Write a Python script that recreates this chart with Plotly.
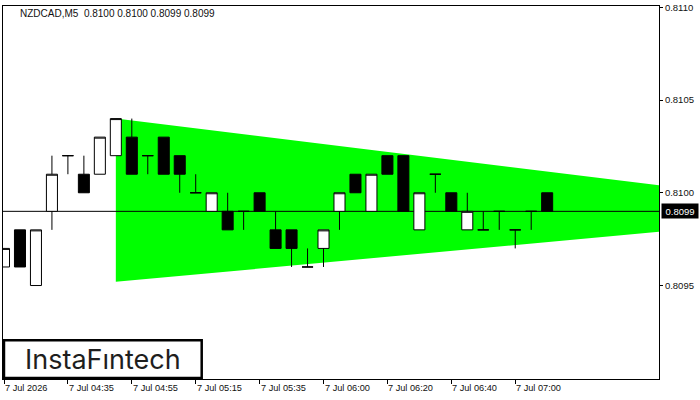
import plotly.graph_objects as go

# ---- data ----
candle_index = list(range(35))
opens = [0.8096, 0.8098, 0.8095, 0.8099, 0.8102, 0.8101, 0.8101, 0.8102, 0.8103, 0.8102,
         0.8103, 0.8102, 0.8100, 0.8099, 0.8099, 0.8099, 0.8100, 0.8098, 0.8098, 0.8096,
         0.8097, 0.8099, 0.8101, 0.8099, 0.8102, 0.8102, 0.8098, 0.8101, 0.8100, 0.8098,
         0.8098, 0.8099, 0.8098, 0.8099, 0.8100]
highs = [0.8097, 0.8098, 0.8098, 0.8102, 0.8102, 0.8102, 0.8103, 0.8104, 0.8104, 0.8102,
         0.8103, 0.8102, 0.8101, 0.8100, 0.8100, 0.8099, 0.8100, 0.8099, 0.8098, 0.8097,
         0.8098, 0.8100, 0.8101, 0.8101, 0.8102, 0.8102, 0.8100, 0.8101, 0.8100, 0.8100,
         0.8099, 0.8099, 0.8098, 0.8099, 0.8100]
lows = [0.8096, 0.8096, 0.8095, 0.8098, 0.8101, 0.8100, 0.8101, 0.8102, 0.8101, 0.8101,
        0.8101, 0.8100, 0.8100, 0.8099, 0.8098, 0.8098, 0.8099, 0.8097, 0.8096, 0.8096,
        0.8096, 0.8098, 0.8100, 0.8099, 0.8101, 0.8099, 0.8098, 0.8100, 0.8099, 0.8098,
        0.8098, 0.8098, 0.8097, 0.8098, 0.8099]
closes = [0.8097, 0.8096, 0.8098, 0.8101, 0.8102, 0.8100, 0.8103, 0.8104, 0.8101, 0.8102,
          0.8101, 0.8101, 0.8100, 0.8100, 0.8098, 0.8099, 0.8099, 0.8097, 0.8097, 0.8096,
          0.8098, 0.8100, 0.8100, 0.8101, 0.8101, 0.8099, 0.8100, 0.8101, 0.8099, 0.8099,
          0.8098, 0.8099, 0.8098, 0.8099, 0.8099]

tick_index = [0, 4, 8, 12, 16, 20, 24, 28, 32]
tick_labels = ["7 Jul 2026", "7 Jul 04:35", "7 Jul 04:55", "7 Jul 05:15", "7 Jul 05:35",
               "7 Jul 06:00", "7 Jul 06:20", "7 Jul 06:40", "7 Jul 07:00"]
price_ticks = [0.8095, 0.8100, 0.8105, 0.8110]

pattern_x = [7, 41]
pattern_upper = [0.81040, 0.81004]
pattern_lower = [0.80952, 0.80979]

current_price = 0.8099
title_text = "NZDCAD,M5  0.8100 0.8100 0.8099 0.8099"

x_range = [-0.0625, 41.0]
y_range = [0.808996, 0.811007]

fig = go.Figure()
fig.add_trace(go.Candlestick(
    x=candle_index, open=opens, high=highs, low=lows, close=closes,
    increasing=dict(line=dict(color="black", width=1), fillcolor="white"),
    decreasing=dict(line=dict(color="black", width=1), fillcolor="black"),
    whiskerwidth=0, hoverinfo="skip", showlegend=False,
))

# triangle pattern (below traces)
path = (f"M {pattern_x[0]},{pattern_upper[0]} L {pattern_x[1]},{pattern_upper[1]} "
        f"L {pattern_x[1]},{pattern_lower[1]} L {pattern_x[0]},{pattern_lower[0]} Z")
shapes = [
    dict(type="path", path=path, xref="x", yref="y", fillcolor="#00FF00",
         line=dict(width=0), layer="below"),
    dict(type="line", xref="x", x0=x_range[0], x1=x_range[1], yref="y",
         y0=current_price, y1=current_price,
         line=dict(color="black", width=1), layer="below"),
    dict(type="rect", xref="paper", yref="paper", x0=0.0015, x1=0.3029, y0=0.0027, y1=0.1037,
         line=dict(color="black", width=2.5), fillcolor="white", layer="above"),
]

annotations = [
    dict(text=title_text, xref="paper", yref="paper", x=0.0228, y=0.980,
         xanchor="left", yanchor="middle", showarrow=False,
         font=dict(family="Liberation Sans", size=10, color="#111111")),
    dict(text=f"{current_price:.4f}", xref="paper", yref="y", x=1, y=current_price,
         xanchor="left", yanchor="middle", xshift=2, showarrow=False,
         bgcolor="black", width=34, height=12, borderpad=1,
         font=dict(family="Liberation Sans", size=9.5, color="white")),
    dict(text="InstaF\u0131ntech", xref="paper", yref="paper", x=0.1522, y=0.053,
         xanchor="center", yanchor="middle", showarrow=False,
         font=dict(family="Inter", size=27, color="#1e1e1e")),
]
for xi, lab in zip(tick_index, tick_labels):
    annotations.append(dict(text=lab, xref="x", yref="paper", x=xi, y=0, yshift=-9, xshift=-1,
                            xanchor="left", yanchor="middle", showarrow=False,
                            font=dict(family="Liberation Sans", size=9.2, color="#111111")))

fig.update_layout(
    width=700, height=400,
    margin=dict(l=2, r=41, t=3, b=21),
    paper_bgcolor="white", plot_bgcolor="white",
    boxgap=0.31, boxgroupgap=0,
    shapes=shapes, annotations=annotations,
    xaxis=dict(range=x_range, tickvals=tick_index, ticktext=[""] * len(tick_index),
               ticks="outside", ticklen=4, tickcolor="black", showgrid=False, zeroline=False,
               showline=True, linecolor="black", linewidth=1, mirror=True,
               rangeslider=dict(visible=False), fixedrange=True),
    yaxis=dict(range=y_range, side="right", tickvals=price_ticks,
               ticktext=[f"{v:.4f}" for v in price_ticks],
               ticks="outside", ticklen=3, tickcolor="black", showgrid=False, zeroline=False,
               showline=True, linecolor="black", linewidth=1, mirror=True,
               ticklabeloverflow="allow",
               tickfont=dict(family="Liberation Sans", size=9.5, color="#111111"),
               fixedrange=True),
)

fig.write_html("out.html")
